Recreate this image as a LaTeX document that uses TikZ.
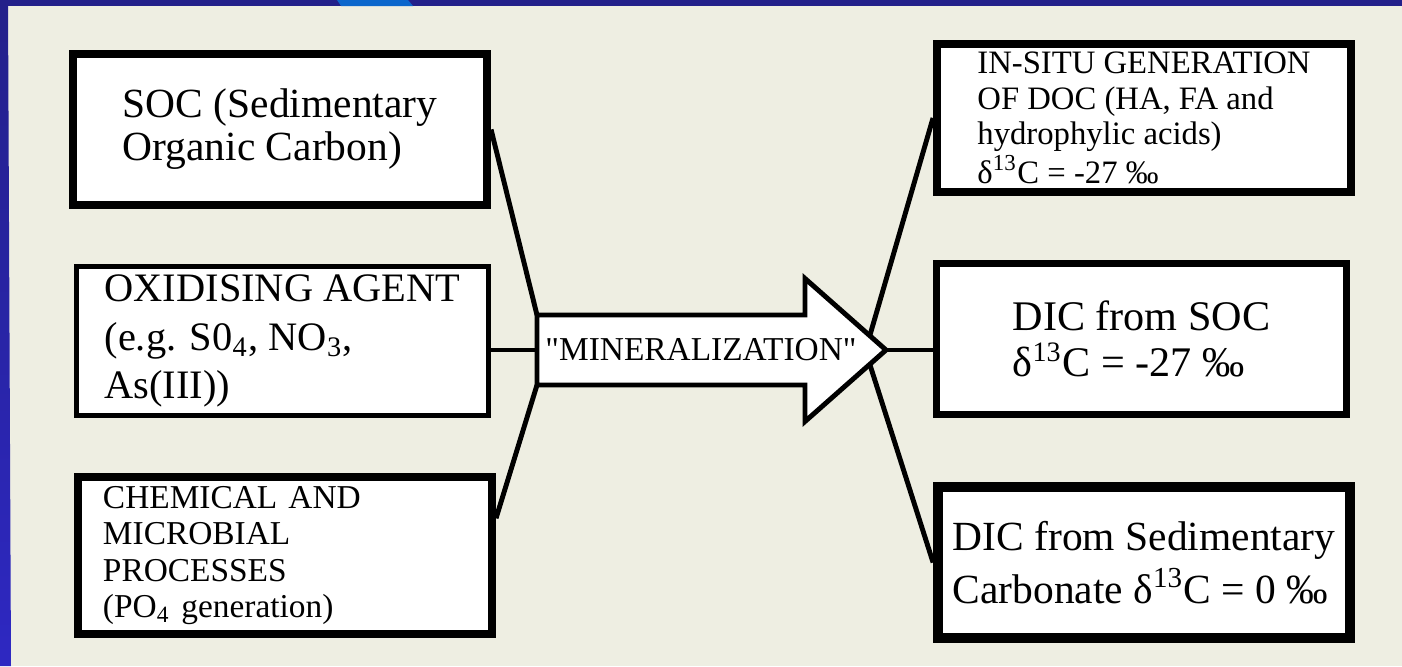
\documentclass[tikz,border=0pt]{standalone}
\usepackage{fontspec}
\setmainfont{Liberation Serif}
\usetikzlibrary{calc}
\definecolor{paper}{HTML}{EEEEE2}
\definecolor{frameblue}{HTML}{23208A}
\definecolor{framelow}{HTML}{2E28C2}
\definecolor{tabblue}{HTML}{0B66CC}
\tikzset{
    blk/.style={draw, fill=white, inner sep=0pt, align=left},
    wire/.style={line width=1.4pt},
    arrowbody/.style={draw, fill=white, line width=1.4pt, line join=miter},
}

\begin{document}
\begin{tikzpicture}
    \fill[paper] (0,0) rectangle (14.02,6.66);
    \useasboundingbox (0,0) rectangle (14.02,6.66);
    \shade[top color=frameblue, bottom color=framelow] (0,0) -- (0,6.66) -- (0.08,6.66) -- (0.11,0) -- cycle;
    \fill[frameblue] (0,6.60) rectangle (14.02,6.66);
    \fill[tabblue] (3.37,6.66) -- (4.08,6.66) -- (4.13,6.60) -- (3.41,6.60) -- cycle;

    \node[blk, line width=2.3pt, minimum width=4.14cm, minimum height=1.51cm,
          font=\fontsize{11.8}{12.2}\selectfont] (soc) at (2.80,5.365)
          {SOC (Sedimentary\\Organic Carbon)};
    \node[blk, line width=1.4pt, minimum width=4.12cm, minimum height=1.49cm,
          font=\fontsize{11.5}{13.9}\selectfont] (oxid) at (2.825,3.25)
          {OXIDISING AGENT\\(e.g. S0\textsubscript{4}, NO\textsubscript{3},\\As(III))};
    \node[blk, line width=2.3pt, minimum width=4.14cm, minimum height=1.57cm,
          inner xsep=0.25cm, text width=3.64cm,
          font=\fontsize{9.5}{10.4}\selectfont] (chem) at (2.85,1.105)
          {CHEMICAL AND\\MICROBIAL\\PROCESSES\\(PO\textsubscript{4} generation)};

    \node[blk, line width=2.4pt, minimum width=4.135cm, minimum height=1.475cm,
          font=\fontsize{9.3}{10.1}\selectfont] (insitu) at (11.44,5.48)
          {IN-SITU GENERATION\\OF DOC (HA, FA and\\hydrophylic acids)\\δ\textsuperscript{13}C = -27 ‰};
    \node[blk, line width=2pt, minimum width=4.10cm, minimum height=1.51cm,
          font=\fontsize{12}{13.1}\selectfont] (dicsoc) at (11.415,3.27)
          {DIC from SOC\\δ\textsuperscript{13}C = -27 ‰};
    \node[blk, line width=2.8pt, minimum width=4.12cm, minimum height=1.51cm,
          font=\fontsize{11.8}{15}\selectfont] (dicsed) at (11.44,1.035)
          {DIC from Sedimentary\\Carbonate δ\textsuperscript{13}C = 0 ‰};

    \coordinate (tailtop) at (5.37,3.51);
    \coordinate (tailmid) at (5.37,3.16);
    \coordinate (tailbot) at (5.37,2.81);
    \coordinate (headtop) at (8.05,3.875);
    \coordinate (headbot) at (8.05,2.445);
    \coordinate (tip) at (8.86,3.16);

    \draw[wire] (soc.east) -- (tailtop);
    \draw[wire] (oxid.east |- tailmid) -- (tailmid);
    \draw[wire] (chem.10) -- (tailbot);
    \draw[wire] ($(headtop)!0.8!(tip)$) -- (insitu.west);
    \draw[wire] (tip) -- (tip -| dicsoc.west);
    \draw[wire] ($(headbot)!0.8!(tip)$) -- (dicsed.west);

    \draw[arrowbody] (tailtop) -- (tailtop -| headtop) -- (headtop) -- (tip)
        -- (headbot) -- (tailbot -| headbot) -- (tailbot) -- cycle;
    \node[font=\fontsize{9.5}{10}\selectfont, inner sep=0pt] (mineral) at (7.01,3.16)
        {\textquotedbl MINERALIZATION\textquotedbl};
\end{tikzpicture}
\end{document}
